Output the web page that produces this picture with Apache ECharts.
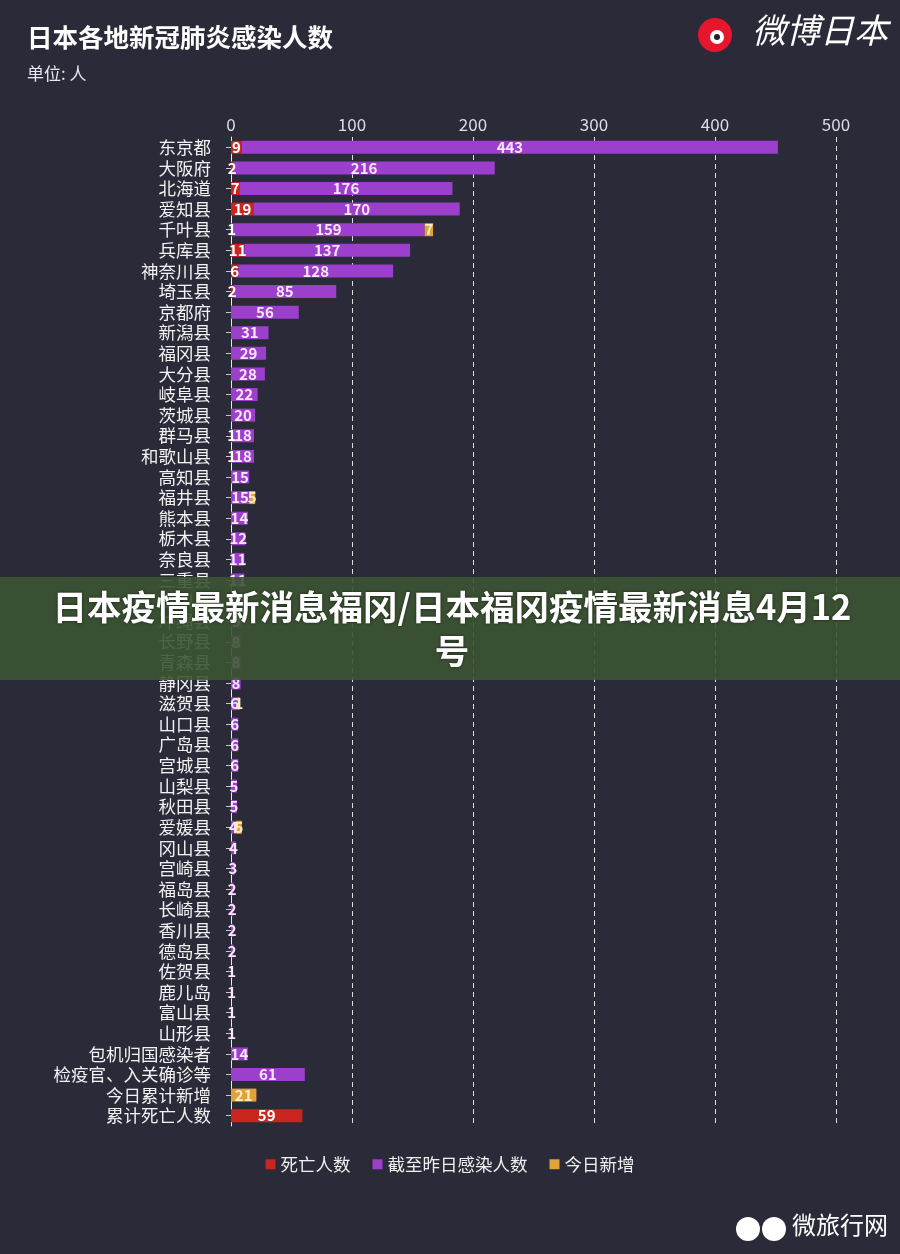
<!DOCTYPE html>
<html>
<head>
<meta charset="utf-8">
<script src="https://cdn.jsdelivr.net/npm/echarts@6/dist/echarts.min.js"></script>
<style>
html,body{margin:0;padding:0;background:#2b2a39;}
#c{width:900px;height:1254px;}
</style>
</head>
<body>
<div id="c"></div>
<script>
const categories = ['东京都','大阪府','北海道','爱知县','千叶县','兵库县','神奈川县','埼玉县','京都府','新潟县','福冈县','大分县','岐阜县','茨城县','群马县','和歌山县','高知县','福井县','熊本县','栃木县','奈良县','三重县','石川县','冲绳县','长野县','青森县','静冈县','滋贺县','山口县','广岛县','宫城县','山梨县','秋田县','爱媛县','冈山县','宫崎县','福岛县','长崎县','香川县','德岛县','佐贺县','鹿儿岛','富山县','山形县','包机归国感染者','检疫官、入关确诊等','今日累计新增','累计死亡人数'];
const deaths   = [9,2,7,19,1,11,6,2,null,null,null,null,null,null,1,1,null,null,null,null,null,null,null,null,null,null,null,null,null,null,null,null,null,null,null,null,null,null,null,null,null,null,null,null,null,null,null,59];
const infected = [443,216,176,170,159,137,128,85,56,31,29,28,22,20,18,18,15,15,14,12,11,11,10,9,8,8,8,6,6,6,6,5,5,4,4,3,2,2,2,2,1,1,1,1,14,61,null,null];
const newCases = [null,null,null,null,7,null,null,null,null,null,null,null,null,null,null,null,null,5,null,null,null,null,null,null,null,null,null,1,null,null,null,null,null,5,null,null,null,null,null,null,null,null,null,null,null,null,21,null];
const xTicks = [0,100,200,300,400,500];
const seriesNames = ['死亡人数','截至昨日感染人数','今日新增'];

const FONT = '"Noto Sans CJK SC", "Noto Sans", sans-serif';
const chart = echarts.init(document.getElementById('c'));
const fmt = p => (p.value ? String(p.value) : '');
function mkSeries(name, data, color, labelColor){
  return {
    name, type:'bar', stack:'total', data, barWidth:13,
    itemStyle:{color},
    label:{show:true, position:'inside', formatter:fmt, color:labelColor,
      fontSize:15, fontWeight:'bold', fontFamily:FONT},
    emphasis:{disabled:true}
  };
}
chart.setOption({
  backgroundColor:'#2b2a39',
  animation:false,
  textStyle:{fontFamily:FONT},
  title:[
    {text:'日本各地新冠肺炎感染人数', left:22, top:20,
      textStyle:{color:'#ffffff', fontSize:25.5, fontWeight:'bold', fontFamily:FONT}},
    {text:'单位: 人', left:22, top:60,
      textStyle:{color:'#e8e8ee', fontSize:17, fontWeight:'normal', fontFamily:FONT}}
  ],
  legend:{
    bottom:76, left:'center', itemWidth:10, itemHeight:10, itemGap:22, icon:'rect',
    data:seriesNames,
    textStyle:{color:'#f0f0f0', fontSize:17.5, fontFamily:FONT}
  },
  grid:{left:231, right:64, top:137, bottom:128, containLabel:false},
  xAxis:{
    type:'value', position:'top', min:xTicks[0], max:xTicks[xTicks.length-1], interval:100,
    axisLine:{show:false}, axisTick:{show:false},
    axisLabel:{color:'#dcdce4', fontSize:17, margin:4, fontFamily:FONT},
    splitLine:{show:true, lineStyle:{color:'rgba(255,255,255,0.85)', type:[5,4], width:1}}
  },
  yAxis:{
    type:'category', inverse:true, data:categories,
    axisLine:{show:true, lineStyle:{color:'#e8e8f0', width:1}},
    axisTick:{show:true, length:5, alignWithLabel:true, lineStyle:{color:'#c8c8d0'}},
    axisLabel:{color:'#f2f2f2', fontSize:17.5, margin:20, fontFamily:FONT, interval:0}
  },
  series:[
    mkSeries(seriesNames[0], deaths, '#c8261f', '#ffffff'),
    mkSeries(seriesNames[1], infected, '#9b3fcc', '#fbe6fb'),
    mkSeries(seriesNames[2], newCases, '#e0a33a', '#fbeec4')
  ],
  graphic:[
    {type:'circle', right:168, top:18, shape:{r:17}, style:{fill:'#e6162d'}, z:10},
    {type:'circle', right:176, top:30, shape:{r:7}, style:{fill:'#ffffff'}, z:11},
    {type:'circle', right:180, top:34, shape:{r:3}, style:{fill:'#222'}, z:12},
    {type:'text', right:12, top:13, z:10,
      style:{text:'微博日本', fill:'#ffffff', font:'italic 34px '+FONT}},
    {type:'rect', left:0, top:577, shape:{width:900, height:103},
      style:{fill:'rgba(60,84,50,0.9)'}, z:20},
    {type:'text', x:452, y:585, z:21,
      style:{text:'日本疫情最新消息福冈/日本福冈疫情最新消息4月12\n号', fill:'#ffffff',
        font:'bold 34.5px '+FONT, align:'center', verticalAlign:'top', lineHeight:44,
        textShadowColor:'rgba(0,0,0,0.6)', textShadowBlur:3}},
    {type:'text', right:12, top:1213, z:10,
      style:{text:'微旅行网', fill:'#ffffff', font:'24px '+FONT}},
    {type:'circle', right:114, top:1217, shape:{r:12}, style:{fill:'#ffffff'}, z:10},
    {type:'circle', right:140, top:1217, shape:{r:12}, style:{fill:'#ffffff'}, z:10}
  ]
});
</script>
</body>
</html>
